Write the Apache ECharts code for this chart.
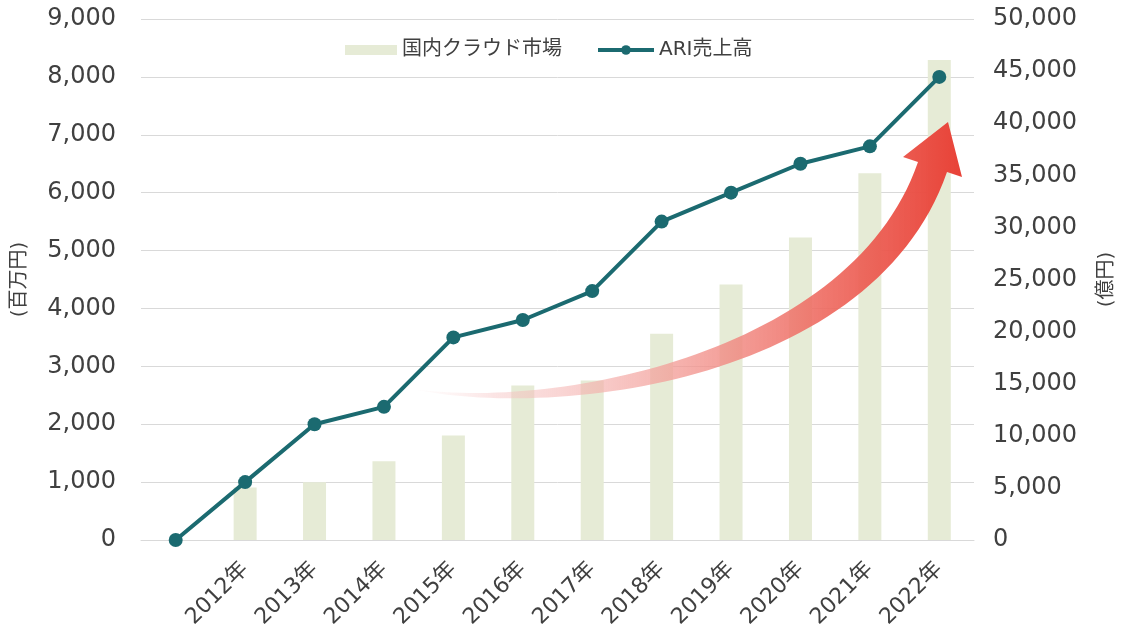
<!DOCTYPE html>
<html>
<head>
<meta charset="utf-8">
<script src="https://cdn.jsdelivr.net/npm/echarts@6/dist/echarts.min.js"></script>
<style>
html,body{margin:0;padding:0;background:#fff;}
#chart{width:1122px;height:627px;}
</style>
</head>
<body>
<div id="chart"></div>
<script>
const categories = ['', '2012年', '2013年', '2014年', '2015年', '2016年', '2017年', '2018年', '2019年', '2020年', '2021年', '2022年'];
const cloudMarket = [null, 5050, 5540, 7550, 10020, 14830, 15310, 19800, 24510, 29020, 35200, 46060];
const ariSales = [0, 1000, 2000, 2300, 3500, 3800, 4300, 5500, 6000, 6500, 6800, 8000];
const seriesNames = ['国内クラウド市場', 'ARI売上高'];
const leftAxisName = '(百万円)';
const rightAxisName = '(億円)';

const FONT = '"DejaVu Sans", "Noto Sans CJK JP", sans-serif';
const TXT = '#404040';
const LINE = '#1b6a70';
const fmt = v => Number(v).toLocaleString('en-US');

const chart = echarts.init(document.getElementById('chart'), null, {renderer: 'canvas'});

chart.setOption({
  animation: false,
  textStyle: {fontFamily: FONT, color: TXT},
  legend: [
    {
      left: 340, top: 35,
      itemWidth: 52, itemHeight: 10,
      textStyle: {fontSize: 20, color: TXT, fontFamily: FONT},
      data: [{name: seriesNames[0], icon: 'rect'}]
    },
    {
      left: 591, top: 35,
      itemWidth: 56, itemHeight: 12,
      textStyle: {fontSize: 20, color: TXT, fontFamily: FONT},
      lineStyle: {width: 4, color: LINE},
      data: [{name: seriesNames[1]}]
    }
  ],
  grid: {left: 141, right: 148, top: 19, bottom: 87, outerBoundsMode: 'none', containLabel: false},
  xAxis: {
    type: 'category',
    data: categories,
    boundaryGap: true,
    axisTick: {show: false},
    axisLine: {lineStyle: {color: '#d9d9d9', width: 1}},
    axisLabel: {rotate: 45, fontSize: 22, color: TXT, margin: 26, interval: 0, fontFamily: FONT}
  },
  yAxis: [
    {
      type: 'value', min: 0, max: 9000, interval: 1000,
      name: leftAxisName, nameLocation: 'middle', nameRotate: 90, nameGap: 111,
      nameMoveOverlap: false,
      nameTextStyle: {fontSize: 20, color: TXT, fontFamily: FONT},
      axisLabel: {fontSize: 24, color: TXT, margin: 25, formatter: fmt, fontFamily: FONT},
      axisLine: {show: false}, axisTick: {show: false},
      splitLine: {lineStyle: {color: '#d9d9d9', width: 1}}
    },
    {
      type: 'value', min: 0, max: 50000, interval: 5000,
      name: rightAxisName, nameLocation: 'middle', nameRotate: 90, nameGap: 123,
      nameMoveOverlap: false,
      nameTextStyle: {fontSize: 20, color: TXT, fontFamily: FONT},
      axisLabel: {fontSize: 24, color: TXT, margin: 19, formatter: fmt, fontFamily: FONT},
      axisLine: {show: false}, axisTick: {show: false},
      splitLine: {show: false}
    }
  ],
  series: [
    {
      name: seriesNames[0],
      type: 'bar',
      yAxisIndex: 1,
      data: cloudMarket,
      barWidth: 23,
      itemStyle: {color: '#e6ebd6'},
      z: 1
    },
    {
      name: seriesNames[1],
      type: 'line',
      yAxisIndex: 0,
      data: ariSales,
      symbol: 'circle',
      symbolSize: 14,
      lineStyle: {color: LINE, width: 4},
      itemStyle: {color: LINE},
      z: 10
    }
  ]
});

// decorative growth arrow (annotation, not data)
function bez(p0, p1, p2, p3, n) {
  const out = [];
  for (let i = 0; i <= n; i++) {
    const t = i / n, u = 1 - t;
    out.push([
      u*u*u*p0[0] + 3*u*u*t*p1[0] + 3*u*t*t*p2[0] + t*t*t*p3[0],
      u*u*u*p0[1] + 3*u*u*t*p1[1] + 3*u*t*t*p2[1] + t*t*t*p3[1]
    ]);
  }
  return out;
}
try {
  const lower = bez([412, 389], [560, 420], [875, 380], [947, 172], 60);
  const upper = bez([412, 389], [560, 410], [853, 351], [918, 162], 60).reverse();
  const pts = lower.concat([[962, 177], [948, 122], [903, 157]], upper);
  chart.setOption({
    graphic: [{
      type: 'polygon',
      z: 5,
      shape: {points: pts},
      style: {
        fill: {
          type: 'linear', x: 0, y: 0, x2: 1, y2: 0,
          colorStops: [
            {offset: 0, color: 'rgba(250,215,215,0)'},
            {offset: 0.15, color: 'rgba(246,195,195,0.45)'},
            {offset: 0.45, color: 'rgba(243,160,155,0.75)'},
            {offset: 0.75, color: 'rgba(238,105,95,0.9)'},
            {offset: 1, color: 'rgba(232,66,55,1)'}
          ]
        }
      }
    }]
  });
} catch (e) { console.log(e); }
</script>
</body>
</html>
